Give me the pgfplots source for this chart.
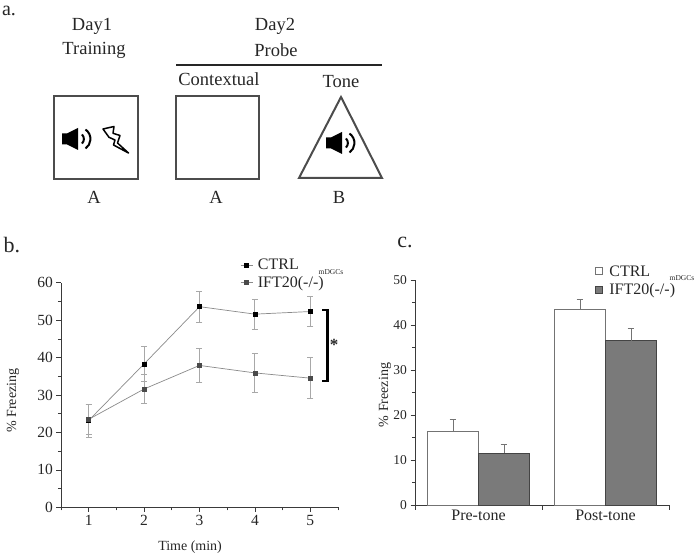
\documentclass[border=0pt]{standalone}
\usepackage{pgfplots}
\pgfplotsset{compat=1.18}
\usepackage{fontspec}
\setmainfont{Liberation Serif}
\definecolor{ink}{HTML}{262626}
\definecolor{axisc}{HTML}{3A3A3A}
\definecolor{errc}{HTML}{A8A8A8}
\definecolor{linec}{HTML}{8A8A8A}
\definecolor{kom}{HTML}{4A4A4A}
\definecolor{barg}{HTML}{7A7A7A}
\definecolor{barl}{HTML}{444444}
\newcommand{\speaker}[2]{%
 \begin{scope}[shift={(#1,#2)}]
  \fill[black] (-16,-5.5) -- (-11,-5.5) -- (0,-11) -- (0,11) -- (-11,5.5) -- (-16,5.5) -- cycle;
  \draw[black,line width=2pt] (4,-4.5) arc[start angle=-45,end angle=45,radius=6.4];
  \draw[black,line width=2pt] (7.5,-9.5) arc[start angle=-55,end angle=55,radius=11.6];
 \end{scope}}
\begin{document}
\begin{tikzpicture}[x=1pt,y=1pt]
\path[use as bounding box] (0,0) rectangle (697,557);
\begin{scope}[shift={(0,557)},y=-1pt,every node/.style={text=ink,inner sep=0pt,font=\fontsize{18.5}{18.5}\selectfont}]
 \node[font=\fontsize{20}{20}\selectfont] at (9,11) {a.};
 \node at (92,26) {Day1};
 \node at (94,50) {Training};
 \node at (275,26) {Day2};
 \node at (276,50) {Probe};
 \draw[black!85,line width=1.8pt] (176,65) -- (382,65);
 \node at (219,79) {Contextual};
 \node at (341,82) {Tone};
 \draw[black!70,line width=2pt] (54,96) rectangle (138,179);
 \draw[black!70,line width=2pt] (176,96) rectangle (259,179);
 \draw[black!70,line width=2pt,line join=miter] (341,97) -- (382,178) -- (299,178) -- cycle;
 \speaker{78}{139}
 \speaker{342}{143}
 \draw[black,fill=white,line width=1.5pt,line join=round] (103,129) -- (114,126.5) -- (113,133.3) -- (120,135.5) -- (117.5,143) -- (128.5,153) -- (113.5,145) -- (115,140) -- (109,137.3) -- cycle;
 \node at (94,197) {A};
 \node at (216,197) {A};
 \node at (339,197) {B};
 \node[font=\fontsize{22}{22}\selectfont] at (12,245) {b.};
 \node[font=\fontsize{22}{22}\selectfont] at (405,242) {c.};
 \draw[black,line width=2.3pt,line cap=butt] (322,309.7) -- (327.5,309.7) -- (327.5,380.7) -- (322,380.7);
 \node[font=\bfseries\fontsize{17}{17}\selectfont] at (334,345) {*};
 \node[font=\fontsize{7.5}{7.5}\selectfont] at (331,272) {mDGCs};
 \node[font=\fontsize{7.5}{7.5}\selectfont] at (682,278) {mDGCs};
\end{scope}

\begin{axis}[
 at={(61pt,49.7pt)},anchor=south west,
 scale only axis,width=277pt,height=224.6pt,
 axis lines=left,axis line style={-,axisc,line width=.7pt},
 xmin=.5,xmax=5.5,ymin=0,ymax=60,
 xtick={1,2,3,4,5},ytick={0,10,...,60},
 extra x ticks={0.5,5.5},extra x tick labels={},
 extra x tick style={major tick length=3pt},
 minor x tick num=1,minor y tick num=1,
 tick align=outside,tick style={axisc,line width=.6pt},
 major tick length=4.5pt,minor tick length=3pt,
 tick label style={font=\fontsize{15.5}{15.5}\selectfont,text=ink},
 /pgf/number format/assume math mode=true,
 every axis x label/.style={at={(axis description cs:0.466,-0.178)},anchor=center},
 every axis y label/.style={at={(axis description cs:-0.173,0.475)},anchor=center,rotate=90},
 label style={font=\fontsize{14}{14}\selectfont,text=ink},
 xlabel={Time (min)},ylabel={\% Freezing},
 clip=false,
 legend style={at={(rel axis cs:0.647,1.115)},anchor=north west,draw=none,fill=none,
   font=\fontsize{16}{16}\selectfont,inner sep=0pt,outer sep=0pt,
   row sep=1.5pt,nodes={text=ink},/tikz/every odd column/.append style={column sep=3pt}},
 legend cell align=left,
 legend image code/.code={\draw[mark repeat=2,mark phase=2,#1] plot coordinates {(0pt,0pt)(6pt,0pt)(12pt,0pt)};},
 error bars/error bar style={errc,line width=.8pt},
 error bars/error mark options={errc,rotate=90,mark size=3pt,line width=.8pt},
]
\addplot[linec,line width=.7pt,mark=square*,mark size=2pt,mark options={black,fill=black},
  error bars/.cd,y dir=both,y explicit] coordinates {
 (1,23.2) +- (0,4.4)
 (2,38.3) +- (0,4.7)
 (3,53.6) +- (0,4.2)
 (4,51.6) +- (0,4.05)
 (5,52.3) +- (0,4.05)
};
\addlegendentry{CTRL}
\addplot[linec,line width=.7pt,mark=square*,mark size=2pt,mark options={kom,fill=kom},
  error bars/.cd,y dir=both,y explicit] coordinates {
 (1,23.5) +- (0,4.0)
 (2,31.6) +- (0,3.8)
 (3,37.9) +- (0,4.5)
 (4,35.9) +- (0,5.3)
 (5,34.5) +- (0,5.5)
};
\addlegendentry{IFT20(-/-)}
\end{axis}

\begin{axis}[
 at={(415pt,51.7pt)},anchor=south west,
 scale only axis,width=254pt,height=225pt,
 axis lines=left,axis line style={-,axisc,line width=.7pt},
 xmin=0,xmax=2,ymin=0,ymax=50,
 xtick={0,1,2},xticklabels={},
 extra x ticks={0.5,1.5},extra x tick labels={Pre-tone,Post-tone},
 extra x tick style={major tick length=0pt,tick label style={yshift=-1.5pt,font=\fontsize{16}{16}\selectfont}},
 ytick={0,10,...,50},minor y tick num=1,
 tick align=outside,tick style={axisc,line width=.6pt},
 major tick length=4.5pt,minor tick length=3pt,
 tick label style={font=\fontsize{13.5}{13.5}\selectfont,text=ink},
 /pgf/number format/assume math mode=true,
 every axis y label/.style={at={(axis description cs:-0.118,0.49)},anchor=center,rotate=90},
 label style={font=\fontsize{14}{14}\selectfont,text=ink},
 ylabel={\% Freezing},
 ybar=0pt,bar width=51pt,
 clip=false,
 legend style={at={(rel axis cs:0.71,1.075)},anchor=north west,draw=none,fill=none,
   font=\fontsize{16}{16}\selectfont,inner sep=0pt,outer sep=0pt,
   row sep=2pt,nodes={text=ink},/tikz/every odd column/.append style={column sep=4pt}},
 legend cell align=left,
 legend image code/.code={\draw[#1,line width=1pt] (0pt,-3.5pt) rectangle (7pt,3.5pt);},
 error bars/error bar style={black!55,line width=.8pt},
 error bars/error mark options={black!55,rotate=90,mark size=3.3pt,line width=.8pt},
]
\addplot[draw=black!55,fill=white,line width=1pt,
  error bars/.cd,y dir=plus,y explicit] coordinates {
 (0.5,16.4) +- (0,2.7)
 (1.5,43.6) +- (0,2.2)
};
\addlegendentry{CTRL}
\addplot[draw=barl,fill=barg,line width=1pt,
  error bars/.cd,y dir=plus,y explicit] coordinates {
 (0.5,11.6) +- (0,2.0)
 (1.5,36.6) +- (0,2.7)
};
\addlegendentry{IFT20(-/-)}
\end{axis}
\end{tikzpicture}
\end{document}
